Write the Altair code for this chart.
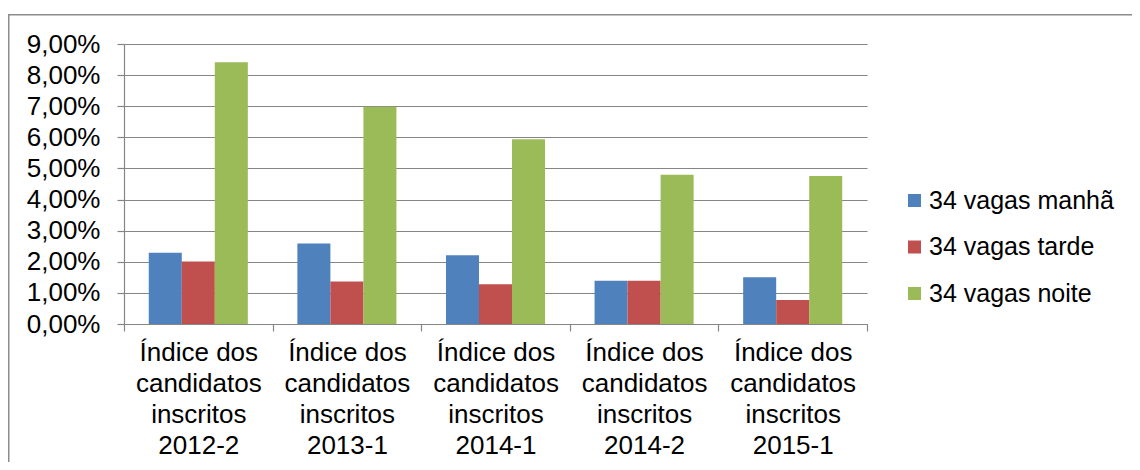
import altair as alt
import pandas as pd

categorias = [
    "Índice dos|candidatos|inscritos|2012-2",
    "Índice dos|candidatos|inscritos|2013-1",
    "Índice dos|candidatos|inscritos|2014-1",
    "Índice dos|candidatos|inscritos|2014-2",
    "Índice dos|candidatos|inscritos|2015-1",
]
series = ["34 vagas manhã", "34 vagas tarde", "34 vagas noite"]
manha = [2.29, 2.59, 2.21, 1.39, 1.50]
tarde = [2.01, 1.37, 1.28, 1.39, 0.77]
noite = [8.41, 6.98, 5.94, 4.80, 4.76]
cores = ["#4F81BD", "#C0504D", "#9BBB59"]
y_ticks = [0.0, 0.01, 0.02, 0.03, 0.04, 0.05, 0.06, 0.07, 0.08, 0.09]

rows = []
for s, vals in zip(series, [manha, tarde, noite]):
    for c, v in zip(categorias, vals):
        rows.append({"cat": c, "serie": s, "valor": v / 100})
df = pd.DataFrame(rows)

FONT = "Liberation Sans"
GRAY = "#868686"
FS = 26

bars = alt.Chart(df).mark_bar().encode(
    x=alt.X(
        "cat:N", sort=categorias, title=None,
        scale=alt.Scale(paddingInner=0, paddingOuter=0),
        axis=alt.Axis(labelAngle=0, labelExpr="split(datum.label, '|')",
                      tickBand="extent", tickSize=7, labelPadding=8,
                      labelLineHeight=31, grid=False),
    ),
    xOffset=alt.XOffset("serie:N", sort=series,
                        scale=alt.Scale(paddingInner=0, paddingOuter=0.75)),
    y=alt.Y(
        "valor:Q", title=None,
        scale=alt.Scale(domain=[0, 0.09], nice=False),
        axis=alt.Axis(values=y_ticks,
                      labelExpr="replace(format(datum.value, '.2%'), '.', ',')",
                      tickSize=7, labelPadding=17, grid=True),
    ),
    color=alt.Color(
        "serie:N", sort=series,
        scale=alt.Scale(domain=series, range=cores),
        legend=alt.Legend(title=None, orient="none", legendX=778, legendY=144,
                          symbolType="square", symbolSize=169, symbolStrokeWidth=0,
                          labelFontSize=25, labelFont=FONT, labelColor="black",
                          labelLimit=0, rowPadding=20.5, labelOffset=2, padding=0),
    ),
)

frame_data = alt.Data(values=[{"k": 1}])
left_border = alt.Chart(frame_data).mark_rule(color="#8c8c8c", strokeWidth=2).encode(
    x=alt.value(-115.5), y=alt.value(-29.5), y2=alt.value(430)
)
top_border = alt.Chart(frame_data).mark_rule(color="#8c8c8c", strokeWidth=1.5).encode(
    x=alt.value(-116.5), x2=alt.value(1030), y=alt.value(-29.2)
)

chart = alt.layer(bars, left_border, top_border).properties(
    width=743, height=280,
    padding={"left": 116, "top": 36, "right": 265, "bottom": 138},
    autosize=alt.AutoSizeParams(type="none"),
).configure_view(stroke=None).configure_axis(
    labelFont=FONT, labelFontSize=FS, labelColor="black",
    domainColor=GRAY, tickColor=GRAY, gridColor=GRAY,
    domainWidth=1.2, tickWidth=1.2, gridWidth=1.2,
)

chart.save("out.html", embed_options={"renderer": "svg", "actions": False})
